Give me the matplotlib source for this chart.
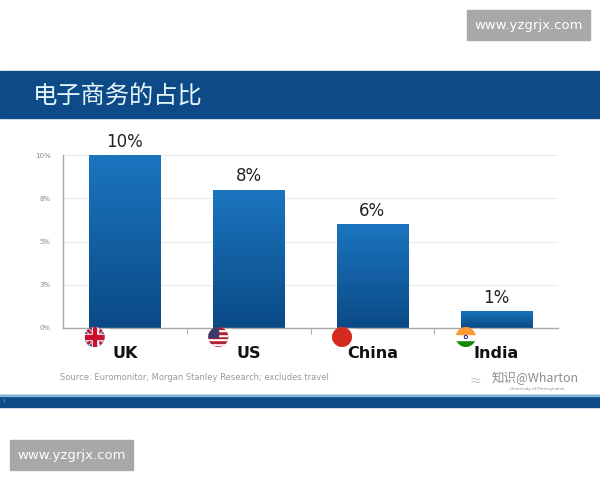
import numpy as np
import matplotlib.pyplot as plt
from matplotlib.colors import LinearSegmentedColormap
from matplotlib.patches import Rectangle, Circle, Polygon
from matplotlib.transforms import blended_transform_factory

plt.rcParams["font.family"] = ["DejaVu Sans", "Noto Sans CJK SC"]

title = "电子商务的占比"
paises = ["UK", "US", "China", "India"]
participacao = [10, 8, 6, 1]  # % do varejo
ticks_y = [0, 2.5, 5, 7.5, 10]
ticks_y_txt = ["0%", "3%", "5%", "8%", "10%"]
fonte = "Source: Euromonitor, Morgan Stanley Research; excludes travel"
marca = "www.yzgrjx.com"

azul_faixa = "#0e4a88"
grad = LinearSegmentedColormap.from_list("barra", ["#0a4a86", "#1b75bf"])

fig = plt.figure(figsize=(6, 4.8), dpi=100)

# eixo principal
ax = fig.add_axes([63 / 600, 1 - 328 / 480, 495 / 600, 173 / 480])
x = np.arange(len(paises))
barras = ax.bar(x, participacao, width=0.574, facecolor="none", edgecolor="none")
grad_img = np.linspace(0, 1, 100).reshape(-1, 1)
for b in barras:
    im = ax.imshow(
        grad_img,
        cmap=grad,
        origin="lower",
        aspect="auto",
        extent=[b.get_x(), b.get_x() + b.get_width(), 0, b.get_height()],
        zorder=2,
    )
    im.set_clip_path(b)
ax.bar_label(barras, labels=[f"{v}%" for v in participacao], padding=3,
             fontsize=12, color="#222222")

ax.set_xlim(-0.5, len(paises) - 0.5)
ax.set_ylim(0, 10)
ax.set_yticks(ticks_y)
ax.set_yticklabels(ticks_y_txt, fontsize=5, color="#8a8a8a")
ax.tick_params(axis="y", length=0, pad=9)
ax.set_xticks(x[:-1] + 0.5)
ax.set_xticklabels([])
ax.tick_params(axis="x", length=4, color="#b0b0b0", direction="out")
ax.grid(axis="y", color="#ececec", linewidth=0.8)
ax.set_axisbelow(True)
for s in ["top", "right"]:
    ax.spines[s].set_visible(False)
for s in ["left", "bottom"]:
    ax.spines[s].set_color("#a8a8a8")
    ax.spines[s].set_linewidth(1.0)

# nomes dos paises
tr = blended_transform_factory(ax.transData, ax.transAxes)
for i, p in enumerate(paises):
    ax.text(i, -0.145, p, transform=tr, ha="center", va="center",
            fontsize=11.5, fontweight="bold", color="#111111")

# camada de decoracao em pixels
ov = fig.add_axes([0, 0, 1, 1], zorder=5)
ov.set_xlim(0, 600)
ov.set_ylim(0, 480)
ov.axis("off")
ov.patch.set_alpha(0)

ov.add_patch(Rectangle((0, 480 - 118), 600, 47, color=azul_faixa, zorder=1))
ov.text(33, 480 - 97, title, fontsize=17.5, color="#e4f6fa", va="center",
        family=["Noto Sans CJK SC", "DejaVu Sans"])
ov.add_patch(Rectangle((0, 480 - 407), 600, 12, color=azul_faixa, zorder=1))
ov.add_patch(Rectangle((0, 480 - 396), 600, 1.2, color="#7fb6dc", zorder=2))
ov.text(3, 480 - 401, "1", fontsize=3, color="#9cc4e4", va="center")

ov.text(60, 480 - 377, fonte, fontsize=6, color="#9a9a9a", va="center")
ov.text(470, 480 - 381, "≈", fontsize=10, color="#c8c8c8", va="center")
ov.text(492, 480 - 378, "知识@Wharton", fontsize=9, color="#8c8c8c",
        va="center", family=["Noto Sans CJK SC", "DejaVu Sans"])
ov.text(510, 480 - 389, "University of Pennsylvania", fontsize=3,
        color="#8c8c8c", va="center")

# marcas d'agua
for bx, by in [(467, 480 - 40), (10, 480 - 470)]:
    ov.add_patch(Rectangle((bx, by), 123, 30, color="#a8a8a8", zorder=3))
    ov.text(bx + 61.5, by + 15, marca, fontsize=9.5, color="white",
            ha="center", va="center", zorder=4)


# bandeiras
def bandeira(nome, cx, cy, r=10):
    circ = Circle((cx, cy), r, transform=ov.transData)
    partes = []
    if nome == "UK":
        partes.append(Rectangle((cx - r, cy - r), 2 * r, 2 * r, color="#2b3a7a"))
        for ang in [45, -45]:
            t = np.deg2rad(ang)
            dx, dy = np.cos(t) * r * 1.5, np.sin(t) * r * 1.5
            nx, ny = -np.sin(t) * 1.5, np.cos(t) * 1.5
            partes.append(Polygon([(cx - dx - nx, cy - dy - ny), (cx + dx - nx, cy + dy - ny),
                                   (cx + dx + nx, cy + dy + ny), (cx - dx + nx, cy - dy + ny)],
                                  color="white"))
            partes.append(Polygon([(cx - dx - nx / 2, cy - dy - ny / 2), (cx + dx - nx / 2, cy + dy - ny / 2),
                                   (cx + dx + nx / 2, cy + dy + ny / 2), (cx - dx + nx / 2, cy - dy + ny / 2)],
                                  color="#c8102e"))
        partes.append(Rectangle((cx - r, cy - 3), 2 * r, 6, color="white"))
        partes.append(Rectangle((cx - 3, cy - r), 6, 2 * r, color="white"))
        partes.append(Rectangle((cx - r, cy - 1.8), 2 * r, 3.6, color="#c8102e"))
        partes.append(Rectangle((cx - 1.8, cy - r), 3.6, 2 * r, color="#c8102e"))
    elif nome == "US":
        n = 9
        h = 2 * r / n
        for k in range(n):
            partes.append(Rectangle((cx - r, cy - r + k * h), 2 * r, h,
                                    color="#b22234" if k % 2 == 0 else "white"))
        partes.append(Rectangle((cx - r, cy), r, r, color="#3c3b6e"))
    elif nome == "China":
        partes.append(Rectangle((cx - r, cy - r), 2 * r, 2 * r, color="#d52b1e"))
    else:
        h = 2 * r / 3
        for k, c in enumerate(["#138808", "white", "#ff9933"]):
            partes.append(Rectangle((cx - r, cy - r + k * h), 2 * r, h, color=c))
        partes.append(Circle((cx, cy), 1.6, fill=False, color="#000080", lw=0.6))
    for pt in partes:
        pt.set_zorder(6)
        ov.add_patch(pt)
        pt.set_clip_path(circ)


for i, p in enumerate(paises):
    px, _ = ax.transData.transform((i - 0.245, 0))
    ov.add_patch(Rectangle((px - 2, 480 - 337.5), 16, 9, color="white", zorder=5))
    bandeira(p, px, 480 - 337)

fig.savefig("out.png", dpi=100)
